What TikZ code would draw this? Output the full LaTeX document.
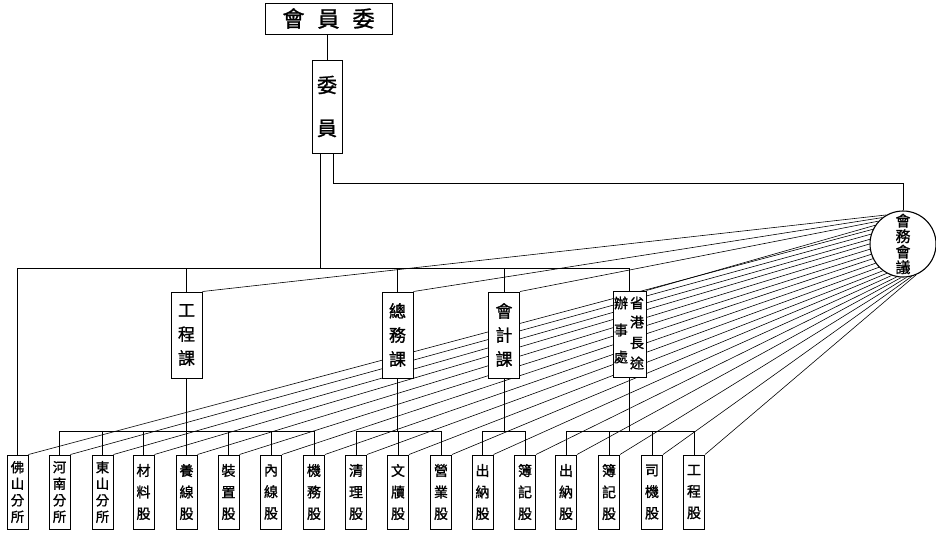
\documentclass[tikz,border=0pt]{standalone}
\usepackage{fontspec}
\newfontfamily\cjk[FakeBold=1.2]{Noto Sans CJK TC}
\pgfdeclarelayer{bg}
\pgfsetlayers{bg,main}
\begin{document}
\begin{tikzpicture}[x=1pt,y=-1pt,line width=0.8pt,
  box/.style={draw,fill=white,line width=1pt,inner sep=0pt,align=center},
  topbox/.style={box,minimum width=127pt,minimum height=31pt,font=\cjk\fontsize{22}{22}\selectfont},
  wybox/.style={box,minimum width=30pt,minimum height=93pt,font=\cjk\fontsize{20}{43}\selectfont},
  kebox/.style={box,minimum width=31pt,minimum height=86pt,font=\cjk\fontsize{17}{24}\selectfont},
  leafA/.style={box,minimum width=21pt,minimum height=74pt,font=\cjk\fontsize{13.5}{16.5}\selectfont},
  leafB/.style={box,minimum width=21pt,minimum height=74pt,font=\cjk\fontsize{14}{21.5}\selectfont},
  chr/.style={inner sep=0pt,font=\cjk\fontsize{14}{14}\selectfont},
  meet/.style={draw,fill=white,circle,line width=1.1pt,minimum size=66pt,inner sep=0pt,align=center,font=\cjk\fontsize{15}{15.5}\selectfont},
  conn/.style={line width=0.8pt},
  fan/.style={line width=0.6pt}]
\path[use as bounding box] (0,0) rectangle (936,533);

% top
\node[topbox] (top) at (328.5,18.5) {會\hspace{13pt}員\hspace{13pt}委};
\node[wybox] (wy) at (327,106.5) {委\\員};
\node[meet] (circ) at (903,244) {會\\務\\會\\議};

% second level
\node[kebox] (k1) at (186.5,335) {工\\程\\課};
\node[kebox] (k2) at (397.5,335) {總\\務\\課};
\node[kebox] (k3) at (504,335) {會\\計\\課};
\node[box,minimum width=33pt,minimum height=86pt] (k4) at (629.5,334) {};
\node[chr] (s1) at (637,303) {省};
\node[chr] (s2) at (637,322) {港};
\node[chr] (s3) at (637,343) {長};
\node[chr] (s4) at (637,363) {途};
\node[chr] (s5) at (621,303) {辦};
\node[chr] (s6) at (621,330) {事};
\node[chr] (s7) at (621,357) {處};

% leaves
\node[leafA] (b1) at (17.5,492) {佛\\山\\分\\所};
\node[leafA] (b2) at (59.5,492) {河\\南\\分\\所};
\node[leafA] (b3) at (102.5,492) {東\\山\\分\\所};
\node[leafB] (b4) at (143.5,492) {材\\料\\股};
\node[leafB] (b5) at (186.5,492) {養\\線\\股};
\node[leafB] (b6) at (228.5,492) {裝\\置\\股};
\node[leafB] (b7) at (271,492) {內\\線\\股};
\node[leafB] (b8) at (314,492) {機\\務\\股};
\node[leafB] (b9) at (356,492) {清\\理\\股};
\node[leafB] (b10) at (398,492) {文\\牘\\股};
\node[leafB] (b11) at (441,492) {營\\業\\股};
\node[leafB] (b12) at (482.5,492) {出\\納\\股};
\node[leafB] (b13) at (525,492) {簿\\記\\股};
\node[leafB] (b14) at (566,492) {出\\納\\股};
\node[leafB] (b15) at (609,492) {簿\\記\\股};
\node[leafB] (b16) at (652,492) {司\\機\\股};
\node[leafB] (b17) at (694,492) {工\\程\\股};

\coordinate (barY) at (0,268);
\coordinate (subY) at (0,431);
\coordinate (turn) at (903,183);

\begin{pgfonlayer}{bg}
% fan lines
\foreach \n [count=\i from 0] in {k1,k2,k3,k4,b1,b2,b3,b4,b5,b6,b7,b8,b9,b10,b11,b12,b13,b14,b15,b16,b17}
  {\pgfmathsetmacro{\ang}{120+8.7*\i}
   \draw[fan] (\n.north east) -- (circ.\ang);}
% main connectors
\draw[conn] (wy.north) -- (wy.north |- top.south);
\draw[conn] ([xshift=-7pt]wy.south) -- ([xshift=-7pt]wy.south |- barY);
\draw[conn] ([xshift=6pt]wy.south) |- (turn) -- (circ.north);
\draw[conn] (b1.north) -- (b1.north |- barY) -- (k4.north |- barY) -- (k4.north);
\foreach \n in {k1,k2,k3} \draw[conn] (\n.north) -- (\n.north |- barY);
% sub bars
\foreach \n in {k1,k2,k3,k4} \draw[conn] (\n.south) -- (\n.south |- subY);
\draw[conn] (b2.north |- subY) -- (b8.north |- subY);
\draw[conn] (b9.north |- subY) -- (b11.north |- subY);
\draw[conn] (b12.north |- subY) -- (b13.north |- subY);
\draw[conn] (b14.north |- subY) -- (b17.north |- subY);
\foreach \n in {b2,b3,b4,b5,b6,b7,b8,b9,b10,b11,b12,b13,b14,b15,b16,b17}
  \draw[conn] (\n.north) -- (\n.north |- subY);
\end{pgfonlayer}
\end{tikzpicture}
\end{document}
